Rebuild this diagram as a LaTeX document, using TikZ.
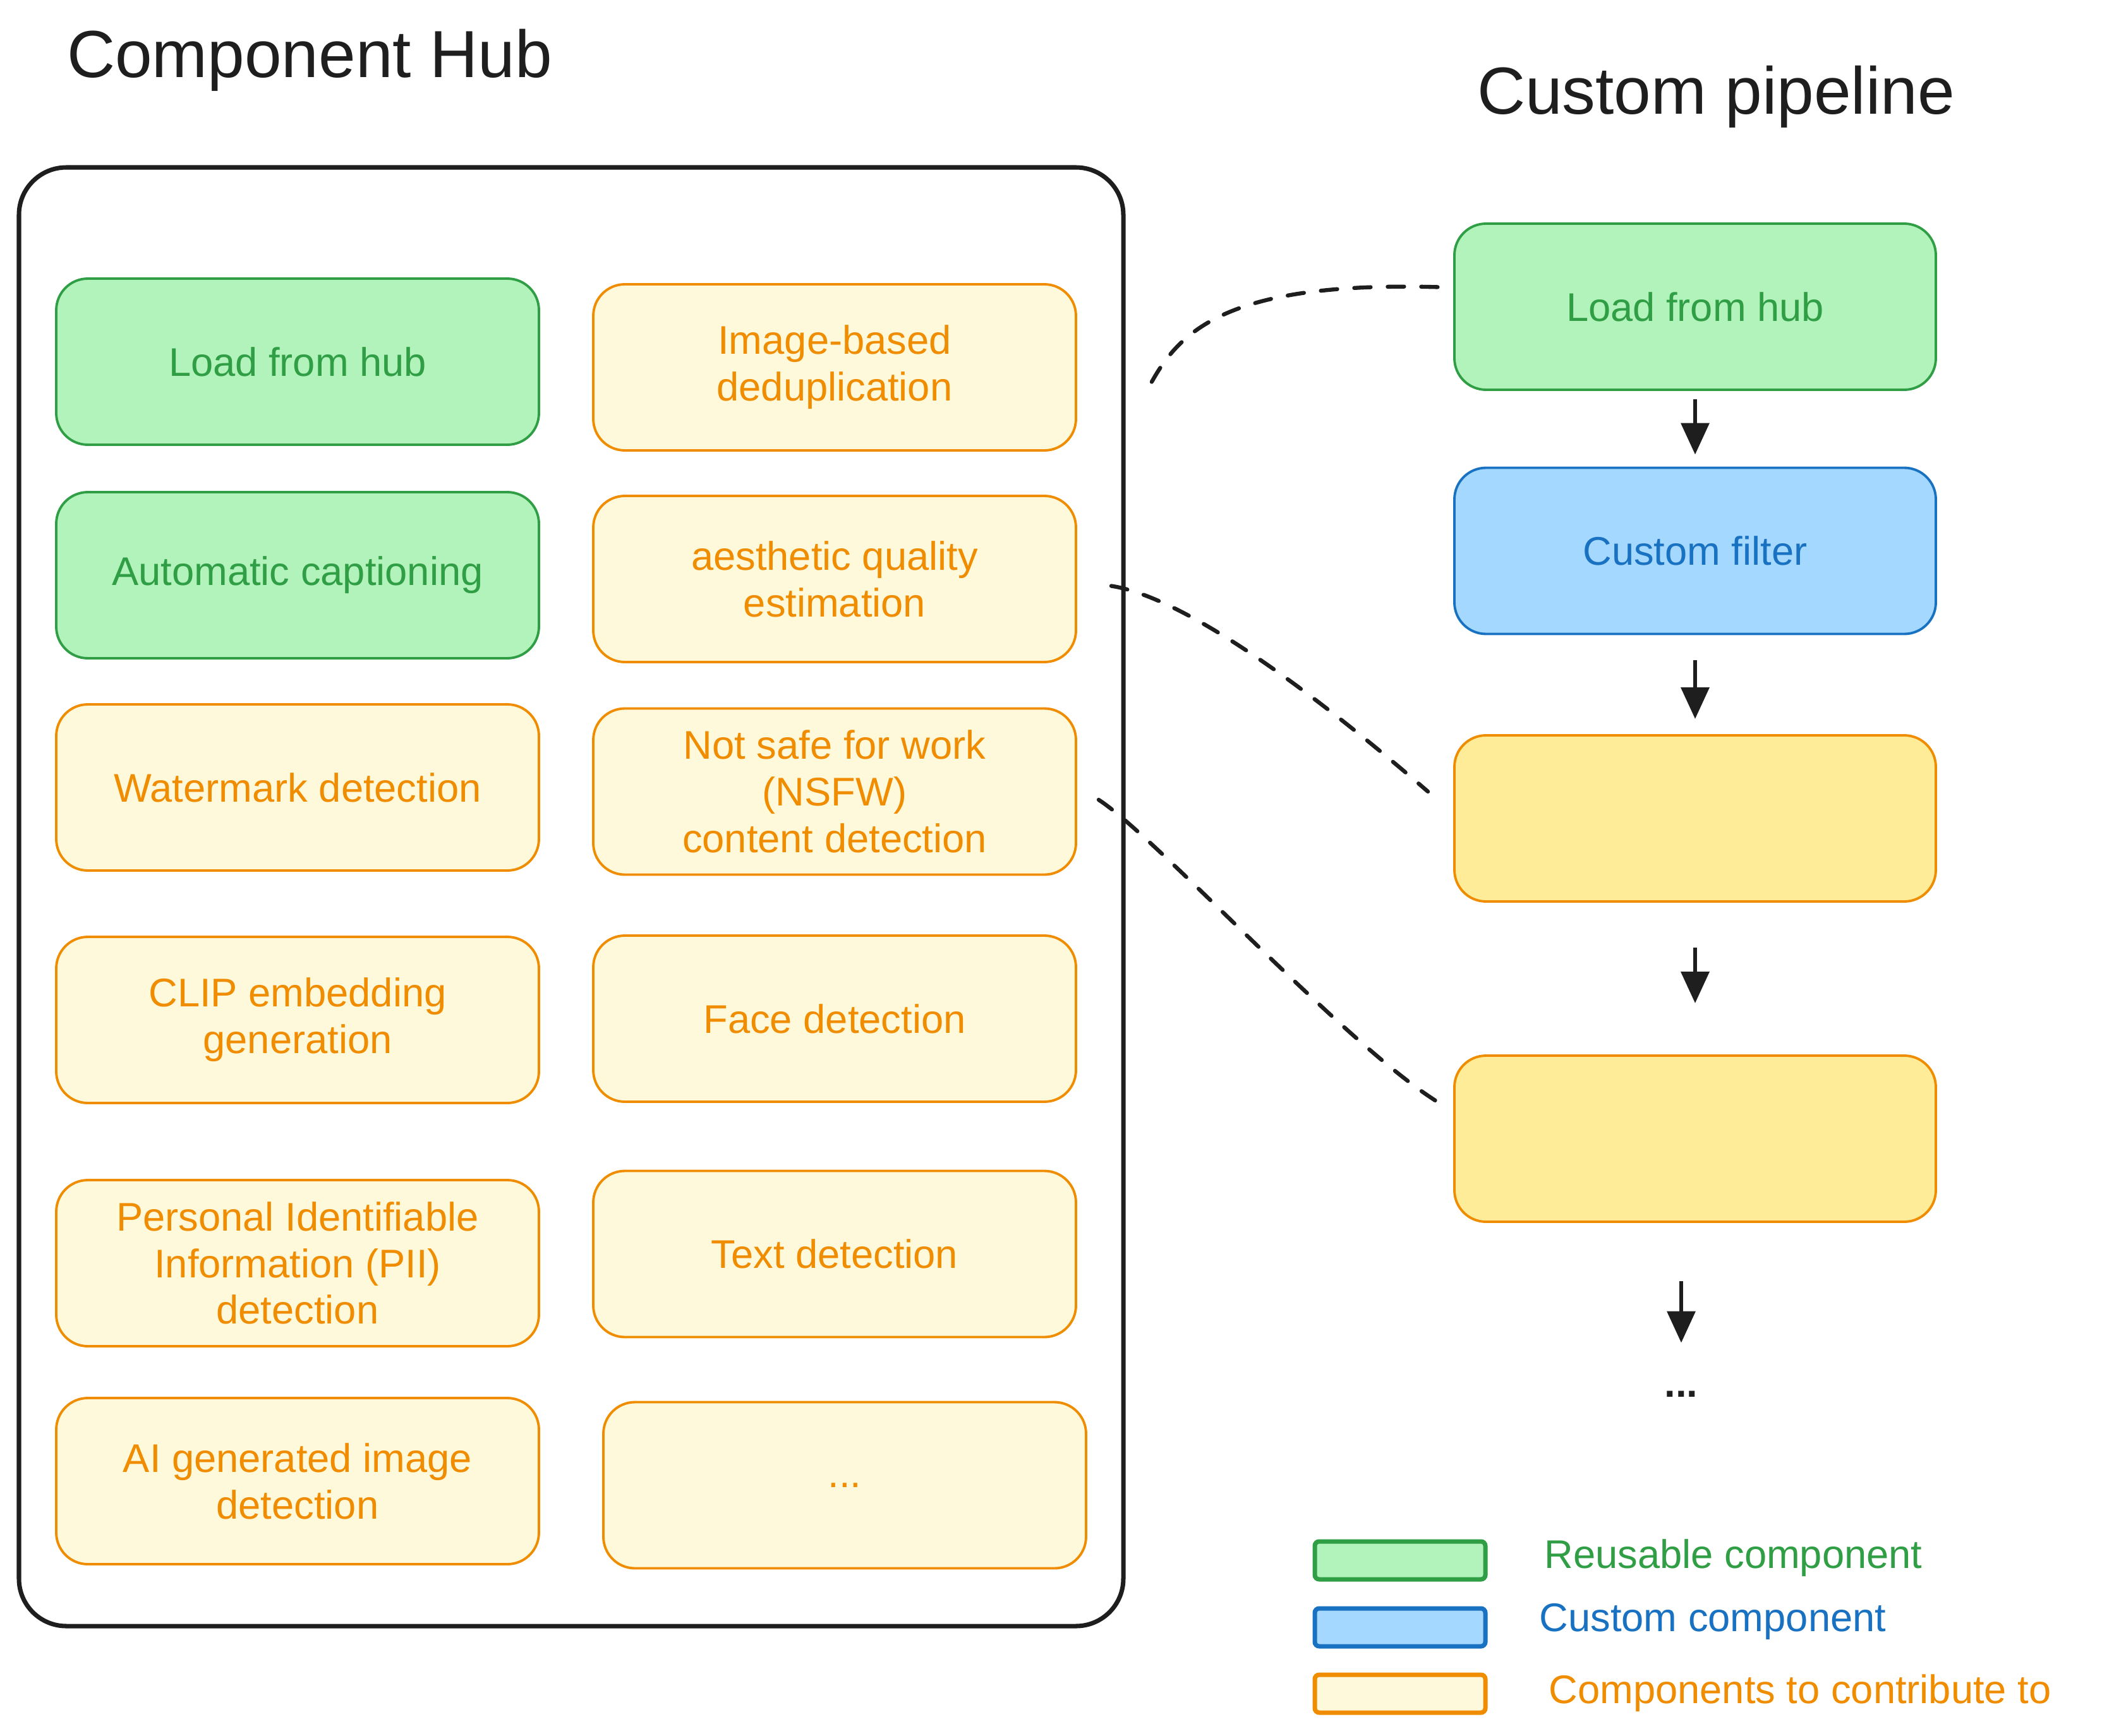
\documentclass[tikz,border=0pt]{standalone}
\usepackage{fontspec}
\setmainfont{Liberation Sans}
\usepackage{xcolor}
\definecolor{ReuseFill}{HTML}{B2F2BB}
\definecolor{ReuseLine}{HTML}{2F9E44}
\definecolor{CustomFill}{HTML}{A5D8FF}
\definecolor{CustomLine}{HTML}{1971C2}
\definecolor{TodoFill}{HTML}{FFF9DB}
\definecolor{TodoSlot}{HTML}{FFEC99}
\definecolor{TodoLine}{HTML}{F08C00}
\definecolor{InkBlack}{HTML}{1E1E1E}
\usetikzlibrary{arrows.meta,positioning}
\tikzset{
  hubtitle/.style={
    text=InkBlack,
    font=\fontsize{30}{36}\selectfont
  },
  hubframe/.style={
    draw=InkBlack,
    line width=2pt,
    rounded corners=0.75cm,
    minimum width=17.48cm,
    minimum height=23.09cm
  },
  compbox/.style={
    rounded corners=0.5cm,
    line width=1.1pt,
    minimum width=7.64cm,
    minimum height=2.63cm,
    align=center,
    font=\fontsize{18}{21}\selectfont
  },
  reusebox/.style={compbox, draw=ReuseLine, fill=ReuseFill, text=ReuseLine},
  custombox/.style={compbox, draw=CustomLine, fill=CustomFill, text=CustomLine},
  todobox/.style={compbox, draw=TodoLine, fill=TodoFill, text=TodoLine},
  slotbox/.style={compbox, draw=TodoLine, fill=TodoSlot},
  legendbox/.style={
    line width=2pt,
    rounded corners=2pt,
    minimum width=2.7cm,
    minimum height=0.6cm
  },
  legendtext/.style={
    anchor=west,
    inner sep=0pt,
    font=\fontsize{18}{21}\selectfont
  },
  flowline/.style={
    draw=InkBlack,
    line width=1.9pt,
    -{Triangle[length=0.5cm,width=0.44cm]}
  },
  linkline/.style={
    draw=InkBlack,
    line width=1.8pt,
    line cap=round,
    dash pattern=on 0.26cm off 0.27cm
  }
}

\begin{document}
\begin{tikzpicture}[x=1cm,y=1cm]
  \useasboundingbox (0,0) rectangle (33.27,-27.48);
  % titles
  \node[hubtitle] (hubname) at (4.90,-0.95) {Component Hub};
  \node[hubtitle] (pipename) at (27.16,-1.53) {Custom pipeline};
  % the hub and its components
  \node[hubframe] (hub) at (9.04,-14.195) {};
  \node[reusebox] (loadhub) at (4.71,-5.725) {Load from hub};
  \node[todobox] (dedup) at (13.21,-5.815) {Image-based\\deduplication};
  \node[reusebox] (caption) at (4.71,-9.105) {Automatic captioning};
  \node[todobox] (aesthetic) at (13.21,-9.165) {aesthetic quality\\estimation};
  \node[todobox] (watermark) at (4.71,-12.465) {Watermark detection};
  \node[todobox] (nsfw) at (13.21,-12.53) {Not safe for work\\(NSFW)\\content detection};
  \node[todobox] (clip) at (4.71,-16.145) {CLIP embedding\\generation};
  \node[todobox] (face) at (13.21,-16.125) {Face detection};
  \node[todobox] (pii) at (4.71,-19.995) {Personal Identifiable\\Information (PII)\\detection};
  \node[todobox] (textdet) at (13.21,-19.85) {Text detection};
  \node[todobox] (aigen) at (4.71,-23.445) {AI generated image\\detection};
  \node[todobox] (more) at (13.37,-23.51) {...};
  % the pipeline
  \node[reusebox, minimum width=7.62cm] (pipeload) at (26.83,-4.855) {Load from hub};
  \node[custombox, minimum width=7.62cm] (pipefilter) at (26.83,-8.72) {Custom filter};
  \node[slotbox, minimum width=7.62cm] (pipeslotA) at (26.83,-12.955) {};
  \node[slotbox, minimum width=7.62cm] (pipeslotB) at (26.83,-18.025) {};
  \node[inner sep=0pt, text=InkBlack, font=\fontsize{18}{21}\selectfont\bfseries] (pipedots) at (26.61,-22.07) {...};
  \draw[flowline, shorten <=0.13cm, shorten >=0.19cm] (pipeload) -- (pipefilter);
  \draw[flowline, shorten <=0.40cm, shorten >=0.24cm] (pipefilter) -- (pipeslotA);
  \draw[flowline, shorten <=0.71cm, shorten >=0.81cm] (pipeslotA) -- (pipeslotB);
  \draw[flowline, shorten <=0.92cm, shorten >=0.76cm] (pipeslotB.south -| pipedots) -- (pipedots.north);
  % hub components plugged into the pipeline
  \draw[linkline] ([xshift=1.18cm,yshift=-0.23cm]dedup.east) .. controls (18.7,-5.2) and (19.5,-4.45) .. ([xshift=-0.22cm,yshift=0.31cm]pipeload.west);
  \draw[linkline] ([xshift=0.54cm,yshift=-0.11cm]aesthetic.east) .. controls (18.7,-9.45) and (20.6,-10.8) .. ([xshift=-0.40cm,yshift=0.425cm]pipeslotA.west);
  \draw[linkline] ([xshift=0.34cm,yshift=-0.13cm]nsfw.east) .. controls (18.3,-13.25) and (21.3,-16.55) .. ([xshift=-0.22cm,yshift=0.565cm]pipeslotB.west);
  % legend
  \node[legendbox, draw=ReuseLine, fill=ReuseFill] (keyreuse) at (22.16,-24.70) {};
  \node[legendbox, draw=CustomLine, fill=CustomFill] (keycustom) at (22.16,-25.76) {};
  \node[legendbox, draw=TodoLine, fill=TodoFill] (keytodo) at (22.16,-26.81) {};
  \node[legendtext, text=ReuseLine] (keyreusetext) at (24.44,-24.66) {Reusable component};
  \node[legendtext, text=CustomLine] (keycustomtext) at (24.36,-25.67) {Custom component};
  \node[legendtext, text=TodoLine] (keytodotext) at (24.51,-26.80) {Components to contribute to};
\end{tikzpicture}
\end{document}
